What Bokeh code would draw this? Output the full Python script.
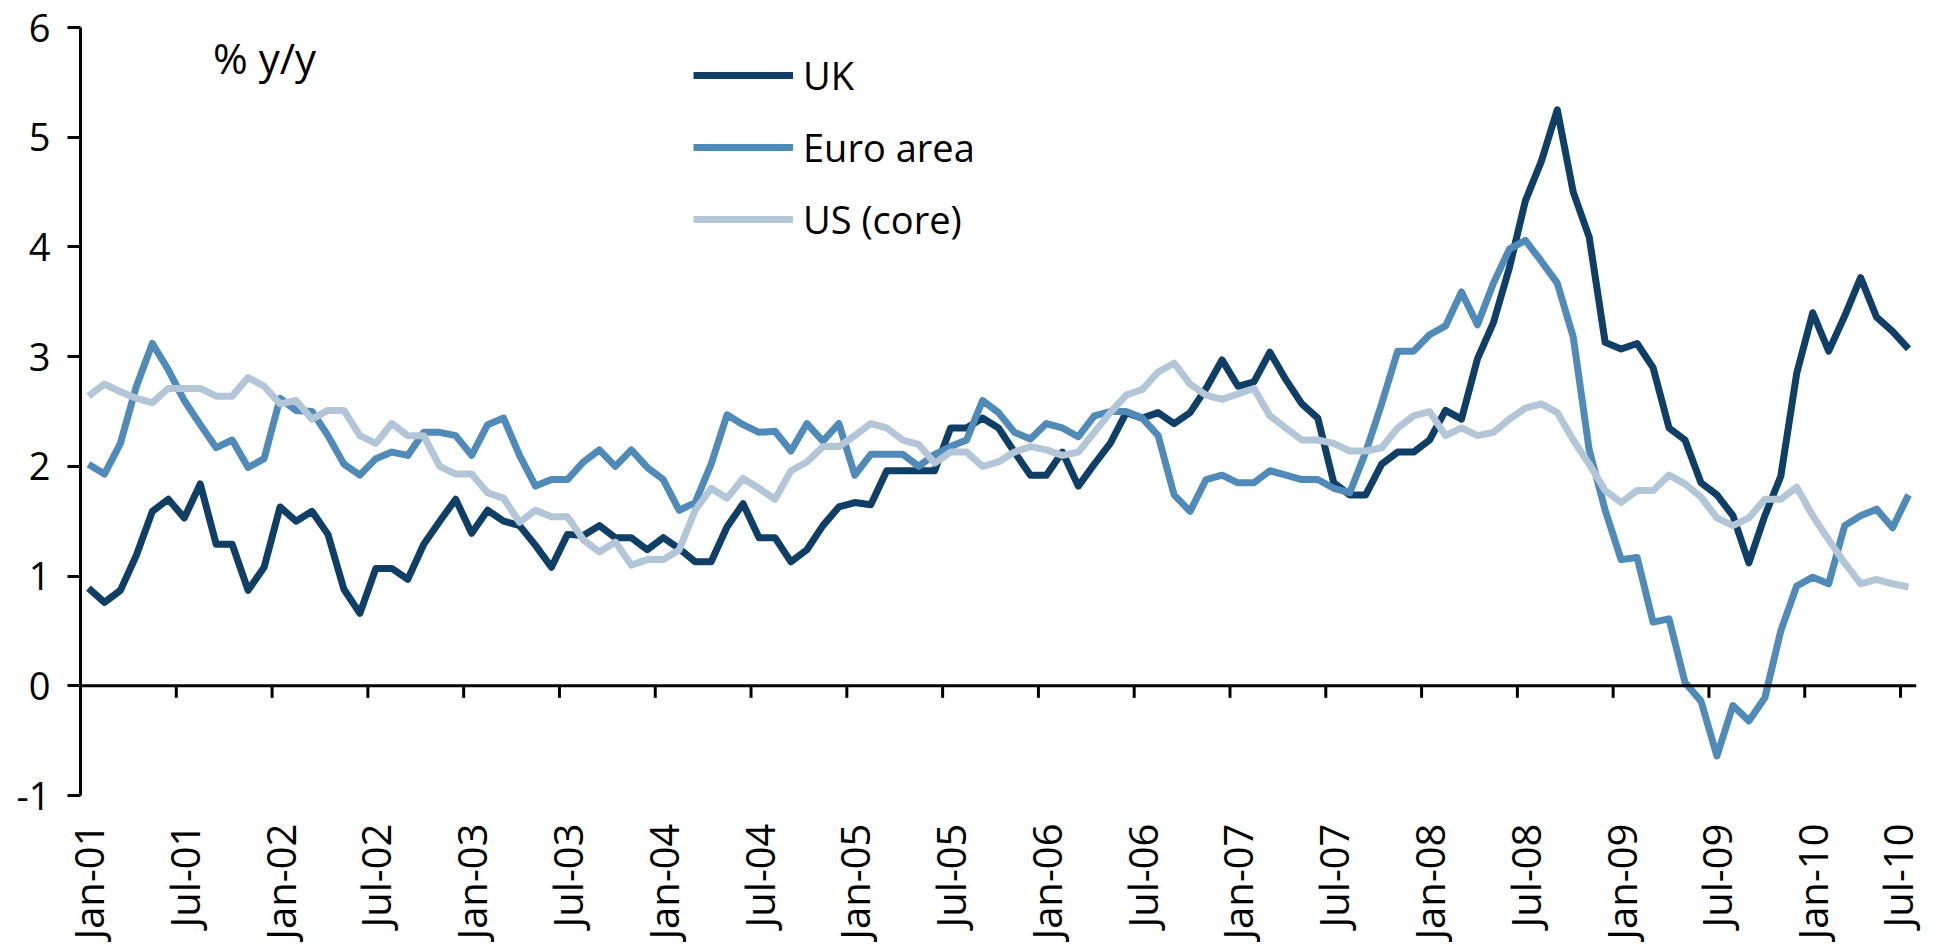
import math
from bokeh.plotting import figure
from bokeh.models import Span, Legend, LegendItem, Label, FixedTicker
from bokeh.embed import file_html
from bokeh.resources import INLINE

# ---------------- data (monthly, Jan-01 .. Jul-10, % y/y) ----------------
tick_labels = ["Jan-01", "Jul-01", "Jan-02", "Jul-02", "Jan-03", "Jul-03", "Jan-04", "Jul-04",
               "Jan-05", "Jul-05", "Jan-06", "Jul-06", "Jan-07", "Jul-07", "Jan-08", "Jul-08",
               "Jan-09", "Jul-09", "Jan-10", "Jul-10"]

uk = [0.89, 0.76, 0.87, 1.19, 1.59, 1.70, 1.53, 1.84, 1.29, 1.29, 0.87, 1.08,
      1.63, 1.50, 1.59, 1.38, 0.88, 0.66, 1.07, 1.07, 0.97, 1.29, 1.50, 1.70,
      1.39, 1.60, 1.50, 1.46, 1.28, 1.08, 1.38, 1.37, 1.46, 1.35, 1.35, 1.24,
      1.35, 1.25, 1.13, 1.13, 1.45, 1.66, 1.35, 1.35, 1.13, 1.24, 1.46, 1.63,
      1.67, 1.65, 1.96, 1.96, 1.96, 1.96, 2.35, 2.35, 2.44, 2.35, 2.13, 1.92,
      1.92, 2.13, 1.82, 2.02, 2.21, 2.49, 2.44, 2.49, 2.39, 2.49, 2.71, 2.97,
      2.73, 2.77, 3.04, 2.79, 2.57, 2.44, 1.85, 1.74, 1.74, 2.02, 2.13, 2.13,
      2.24, 2.51, 2.43, 2.98, 3.31, 3.81, 4.42, 4.78, 5.25, 4.50, 4.09, 3.13,
      3.07, 3.12, 2.90, 2.35, 2.24, 1.85, 1.74, 1.55, 1.12, 1.55, 1.91, 2.85,
      3.40, 3.05, 3.37, 3.72, 3.36, 3.23, 3.07]

euro = [2.02, 1.93, 2.21, 2.73, 3.12, 2.88, 2.60, 2.38, 2.17, 2.24, 1.99, 2.07,
        2.62, 2.51, 2.50, 2.28, 2.02, 1.92, 2.07, 2.13, 2.10, 2.31, 2.31, 2.28,
        2.10, 2.38, 2.44, 2.10, 1.82, 1.88, 1.88, 2.04, 2.15, 2.00, 2.15, 1.99,
        1.88, 1.60, 1.67, 2.02, 2.47, 2.38, 2.31, 2.32, 2.14, 2.39, 2.23, 2.39,
        1.92, 2.11, 2.11, 2.11, 2.00, 2.11, 2.18, 2.24, 2.60, 2.49, 2.31, 2.25,
        2.39, 2.35, 2.27, 2.46, 2.50, 2.50, 2.44, 2.28, 1.74, 1.59, 1.88, 1.92,
        1.85, 1.85, 1.96, 1.92, 1.88, 1.88, 1.80, 1.76, 2.13, 2.57, 3.05, 3.05,
        3.20, 3.28, 3.59, 3.29, 3.67, 3.98, 4.06, 3.87, 3.67, 3.18, 2.15, 1.60,
        1.15, 1.17, 0.58, 0.61, 0.03, -0.14, -0.64, -0.18, -0.32, -0.11, 0.50, 0.91,
        0.99, 0.93, 1.46, 1.55, 1.61, 1.44, 1.74]

us_core = [2.64, 2.75, 2.68, 2.62, 2.58, 2.71, 2.71, 2.71, 2.64, 2.64, 2.81, 2.73,
           2.57, 2.60, 2.43, 2.51, 2.51, 2.28, 2.21, 2.39, 2.28, 2.28, 2.00, 1.93,
           1.93, 1.76, 1.71, 1.49, 1.60, 1.54, 1.54, 1.33, 1.22, 1.31, 1.10, 1.15,
           1.15, 1.24, 1.60, 1.80, 1.71, 1.89, 1.80, 1.70, 1.96, 2.04, 2.18, 2.18,
           2.28, 2.39, 2.35, 2.24, 2.20, 2.03, 2.13, 2.13, 2.00, 2.04, 2.13, 2.18,
           2.15, 2.10, 2.13, 2.31, 2.49, 2.65, 2.70, 2.86, 2.94, 2.75, 2.65, 2.61,
           2.66, 2.71, 2.46, 2.35, 2.24, 2.24, 2.21, 2.14, 2.14, 2.17, 2.35, 2.46,
           2.50, 2.28, 2.35, 2.28, 2.31, 2.43, 2.53, 2.57, 2.49, 2.24, 2.02, 1.78,
           1.67, 1.78, 1.78, 1.92, 1.84, 1.72, 1.53, 1.46, 1.53, 1.70, 1.70, 1.81,
           1.55, 1.33, 1.12, 0.93, 0.97, 0.93, 0.90]

series_names = ["UK", "Euro area", "US (core)"]
y_ticks = [-1, 0, 1, 2, 3, 4, 5, 6]
y_tick_labels = ["-1", "0", "1", "2", "3", "4", "5", "6"]

# ---------------- styling ----------------
FONT = "Open Sans"
colors = ["#0f3e67", "#4f8ab9", "#b2c6d7"]

months = list(range(len(uk)))              # month index, drawn at mid-month
label_pos = months[::6]                    # every 6 months
tick_marks = [m - 0.5 for m in label_pos]  # month boundaries

p = figure(frame_width=1836, frame_height=768,
           x_range=(-0.5, 114.5), y_range=(-1, 6),
           output_backend="svg", toolbar_location=None,
           min_border_left=80, min_border_top=27, min_border_right=8,
           min_border_bottom=0)
p.grid.visible = False
p.outline_line_color = None

# y axis
p.yaxis.ticker = FixedTicker(ticks=y_ticks)
p.yaxis.major_label_overrides = {t: s for t, s in zip(y_ticks, y_tick_labels)}
p.yaxis.axis_line_width = 3
p.yaxis.axis_line_color = "black"
p.yaxis.major_tick_line_width = 3
p.yaxis.major_tick_line_color = "black"
p.yaxis.major_tick_out = 13
p.yaxis.major_tick_in = 0
p.yaxis.minor_tick_line_color = None
p.yaxis.major_label_text_font = FONT
p.yaxis.major_label_text_font_size = "38px"
p.yaxis.major_label_text_color = "black"
p.yaxis.major_label_standoff = 17

# x axis: labels only, at bottom
p.xaxis.ticker = FixedTicker(ticks=label_pos)
p.xaxis.major_label_overrides = {m: lab for m, lab in zip(label_pos, tick_labels)}
p.xaxis.axis_line_color = None
p.xaxis.major_tick_line_color = None
p.xaxis.minor_tick_line_color = None
p.xaxis.major_tick_out = 0
p.xaxis.major_tick_in = 0
p.xaxis.major_label_orientation = math.pi / 2
p.xaxis.major_label_standoff = 28
p.xaxis.major_label_text_font = FONT
p.xaxis.major_label_text_font_size = "40px"
p.xaxis.major_label_text_color = "black"

# zero line with hanging ticks
p.add_layout(Span(location=0, dimension="width", line_color="black", line_width=3))
p.segment(x0=tick_marks, y0=[0] * len(tick_marks), x1=tick_marks,
          y1=[-0.11] * len(tick_marks), line_color="black", line_width=3)

# series
renderers = []
for vals, col in zip([uk, euro, us_core], colors):
    r = p.line(months, vals, line_color=col, line_width=7, line_join="round")
    renderers.append(r)

legend = Legend(items=[LegendItem(label=n, renderers=[r]) for n, r in zip(series_names, renderers)],
                location=(613, 550), orientation="vertical",
                glyph_width=100, glyph_height=44, label_standoff=10, spacing=20,
                padding=0, margin=0, border_line_color=None, background_fill_alpha=0,
                label_text_font=FONT, label_text_font_size="38px", label_text_color="black")
p.add_layout(legend)

p.add_layout(Label(x=7.8, y=5.73, text="% y/y", text_font=FONT, text_font_size="42px",
                   text_color="black", text_baseline="alphabetic", text_align="left"))

open("out.html", "w").write(file_html(p, INLINE))
